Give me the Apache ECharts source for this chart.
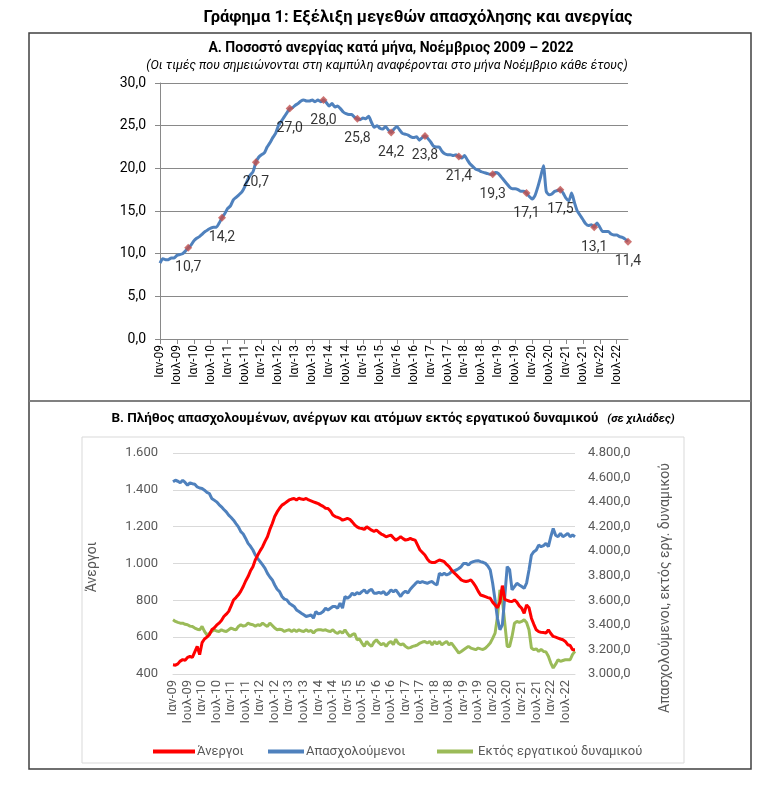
<!DOCTYPE html>
<html><head><meta charset="utf-8">
<script src="https://cdn.jsdelivr.net/npm/echarts@6/dist/echarts.min.js"></script>
<style>html,body{margin:0;padding:0;background:#fff}#c{width:770px;height:786px}</style>
</head><body><div id="c"></div>
<script>
// ---- tick label pieces ----
const monthNames = ['Ιαν','Φεβ','Μαρ','Απρ','Μαϊ','Ιουν','Ιουλ','Αυγ','Σεπ','Οκτ','Νοε','Δεκ'];
const firstYear = 2009, lastYear = 2022, lastMonthIndex = 10; // Nov 2022
const mainTitle = 'Γράφημα 1: Εξέλιξη μεγεθών απασχόλησης και ανεργίας';
const titleA = 'Α. Ποσοστό ανεργίας κατά μήνα, Νοέμβριος 2009 – 2022';
const subtitleA = '(Οι τιμές που σημειώνονται στη καμπύλη αναφέρονται στο μήνα Νοέμβριο κάθε έτους)';
const titleB = 'Β. Πλήθος απασχολουμένων, ανέργων και ατόμων εκτός εργατικού δυναμικού';
const titleBUnit = '(σε χιλιάδες)';
const seriesNames = ['Άνεργοι','Απασχολούμενοι','Εκτός εργατικού δυναμικού'];
const leftAxisNameB = 'Άνεργοι';
const rightAxisNameB = 'Απασχολούμενοι, εκτός εργ. δυναμικού';

// ---- Chart A: unemployment rate (%), Jan 2009 – Nov 2022 ----
const unemploymentRate = [
 8.9,9.4,9.3,9.3,9.5,9.5,9.8,9.9,10.0,10.3,10.7,11.0,
 11.5,11.8,12.0,12.3,12.6,12.8,13.0,13.1,13.1,13.6,14.2,14.7,
 15.3,15.6,16.3,16.6,16.9,17.2,17.8,18.6,19.2,19.6,20.7,21.3,
 21.6,21.8,22.5,23.0,23.6,24.1,25.0,25.5,26.0,26.5,27.0,27.1,
 27.4,27.6,27.9,28.0,27.9,27.9,28.0,27.8,28.0,27.8,28.0,27.7,
 27.3,27.6,27.2,27.3,27.0,26.6,26.4,26.3,26.3,26.0,25.8,25.7,
 25.9,25.8,26.1,25.4,24.8,25.0,24.7,24.6,24.9,24.5,24.2,24.6,
 24.9,24.5,24.1,24.0,23.9,23.7,23.6,23.7,23.3,23.6,23.8,23.5,
 23.1,22.6,22.5,22.5,22.0,21.7,21.6,21.6,21.5,21.6,21.4,21.2,
 21.5,21.0,20.5,20.2,19.9,19.8,19.6,19.5,19.4,19.3,19.3,19.5,
 19.4,19.0,18.6,18.2,17.8,17.6,17.6,17.5,17.3,17.3,17.1,16.7,
 16.4,16.8,17.8,19.0,20.3,17.3,16.9,17.0,17.3,17.4,17.5,17.1,
 16.5,16.2,17.1,16.0,15.0,14.5,14.0,13.5,13.3,13.4,13.1,13.6,
 13.1,12.6,12.6,12.6,12.3,12.2,12.2,12.0,11.9,11.7,11.4
];

// ---- Chart B: thousands of persons, Jan 2009 – Nov 2022 ----
const unemployed = [
 450,448,455,470,478,475,490,495,490,520,550,505,
 570,590,600,613,640,650,665,676,690,712,725,740,
 770,802,815,830,850,875,905,929,960,983,1020,1046,
 1070,1091,1120,1145,1185,1217,1255,1280,1300,1317,1325,1335,
 1345,1350,1353,1345,1355,1350,1348,1353,1345,1340,1335,1330,
 1325,1317,1310,1300,1299,1285,1263,1255,1250,1245,1235,1240,
 1245,1240,1226,1210,1199,1192,1190,1185,1199,1190,1181,1175,
 1181,1170,1160,1154,1145,1150,1154,1140,1127,1135,1145,1135,
 1127,1130,1136,1130,1127,1100,1073,1060,1046,1025,1010,1005,
 1005,1012,1019,1015,1010,995,983,965,950,938,925,911,
 905,902,905,911,895,875,850,829,825,820,815,811,
 790,775,760,790,880,805,800,795,793,802,790,770,
 757,730,775,760,703,670,640,630,626,625,622,640,
 620,604,600,595,590,586,577,559,555,532,532
];
const employed = [
 4565,4578,4570,4557,4578,4560,4538,4557,4550,4546,4524,4515,
 4511,4497,4480,4470,4430,4416,4402,4380,4362,4340,4321,4294,
 4275,4253,4225,4199,4159,4140,4104,4064,4040,4010,3969,3940,
 3915,3888,3861,3820,3790,3766,3725,3690,3671,3631,3610,3604,
 3577,3563,3550,3522,3509,3495,3482,3468,3474,3482,3455,3509,
 3490,3495,3509,3536,3522,3536,3550,3550,3536,3577,3536,3631,
 3617,3631,3658,3644,3663,3652,3671,3685,3658,3679,3690,3658,
 3658,3665,3658,3671,3644,3660,3685,3670,3685,3658,3631,3660,
 3675,3660,3690,3712,3734,3753,3744,3753,3745,3739,3748,3753,
 3735,3725,3820,3807,3820,3807,3815,3834,3840,3847,3860,3874,
 3901,3901,3888,3907,3915,3920,3923,3915,3910,3901,3880,3847,
 3739,3600,3450,3360,3400,3631,3874,3850,3685,3712,3739,3725,
 3712,3698,3740,3847,3969,3996,4010,4050,4037,4045,4064,4037,
 4118,4186,4130,4118,4145,4118,4130,4145,4118,4132,4118
];
const outsideLabourForce = [
 3441,3428,3420,3414,3414,3405,3401,3390,3387,3374,3365,3360,
 3387,3347,3319,3330,3347,3360,3350,3347,3360,3350,3347,3360,
 3374,3365,3360,3387,3401,3390,3395,3414,3405,3401,3390,3401,
 3395,3414,3400,3387,3414,3395,3374,3360,3365,3360,3347,3355,
 3360,3347,3360,3347,3360,3350,3347,3360,3347,3355,3333,3355,
 3360,3360,3355,3360,3350,3347,3360,3340,3330,3347,3333,3360,
 3330,3306,3320,3330,3279,3285,3252,3225,3265,3240,3225,3260,
 3279,3255,3238,3250,3225,3252,3265,3240,3284,3250,3238,3245,
 3225,3211,3215,3225,3230,3238,3252,3260,3265,3252,3265,3238,
 3265,3245,3265,3238,3252,3265,3238,3252,3225,3198,3171,3184,
 3198,3211,3225,3211,3205,3198,3211,3205,3200,3211,3230,3252,
 3290,3333,3468,3685,3604,3414,3225,3225,3306,3414,3428,3420,
 3428,3441,3420,3360,3211,3198,3205,3184,3200,3184,3180,3144,
 3089,3049,3080,3116,3103,3110,3116,3116,3116,3160,3184
];

// ---- categories (month labels) ----
const categories = [];
for (let y = firstYear; y <= lastYear; y++) {
  for (let m = 0; m < 12; m++) {
    if (y === lastYear && m > lastMonthIndex) break;
    categories.push(monthNames[m] + '-' + String(y).slice(2));
  }
}
const novemberPoints = [];
categories.forEach((c, i) => { if (c.startsWith('Νοε')) novemberPoints.push([i, unemploymentRate[i]]); });

const FONT = 'Roboto, "Noto Sans", sans-serif';
const comma1 = v => v.toFixed(1).replace('.', ',');
const thousands = v => String(v).replace(/\B(?=(\d{3})+(?!\d))/g, '.');

const chart = echarts.init(document.getElementById('c'), null, {renderer: 'canvas'});
chart.setOption({
  animation: false,
  textStyle: {fontFamily: FONT},
  title: [
    {text: mainTitle, left: 413, top: 4, textAlign: 'center',
     textStyle: {fontFamily: FONT, fontSize: 16.5, fontWeight: 'bold', color: '#000'}},
    {text: titleA, left: 386, top: 36, textAlign: 'center',
     textStyle: {fontFamily: FONT, fontSize: 14, fontWeight: 'bold', color: '#000'}},
    {text: subtitleA, left: 382, top: 54, textAlign: 'center',
     textStyle: {fontFamily: FONT, fontSize: 12.5, fontStyle: 'italic', fontWeight: 'normal', color: '#000'}},
    {text: '{b|' + titleB + '}  {i|' + titleBUnit + '}', left: 388, top: 405, textAlign: 'center',
     textStyle: {rich: {
       b: {fontFamily: FONT, fontSize: 13.5, fontWeight: 'bold', color: '#000'},
       i: {fontFamily: FONT, fontSize: 11.5, fontStyle: 'italic', color: '#000'}}}}
  ],
  graphic: [
    {type: 'rect', shape: {x: 29, y: 33, width: 722, height: 736}, style: {fill: 'none', stroke: '#404040', lineWidth: 1.5}, z: 0},
    {type: 'line', shape: {x1: 29, y1: 401, x2: 751, y2: 401}, style: {stroke: '#808080', lineWidth: 2}},
    {type: 'rect', shape: {x: 82, y: 437, width: 602, height: 326}, style: {fill: 'none', stroke: '#d9d9d9', lineWidth: 1}},
    {type: 'text', x: 92, y: 567, rotation: Math.PI / 2,
     style: {text: leftAxisNameB, fontFamily: FONT, fontSize: 14, fill: '#595959', align: 'center', verticalAlign: 'middle'}},
    {type: 'text', x: 665, y: 588, rotation: Math.PI / 2,
     style: {text: rightAxisNameB, fontFamily: FONT, fontSize: 14, fill: '#595959', align: 'center', verticalAlign: 'middle'}}
  ],
  legend: [
    {data: [seriesNames[0]], left: 148, top: 740, icon: 'rect', itemWidth: 42, itemHeight: 4, itemGap: 2,
     textStyle: {fontFamily: FONT, fontSize: 13, color: '#595959', padding: [0, 0, 0, -3]}},
    {data: [seriesNames[1]], left: 263, top: 740, icon: 'rect', itemWidth: 36, itemHeight: 4,
     textStyle: {fontFamily: FONT, fontSize: 13, color: '#595959', padding: [0, 0, 0, -3]}},
    {data: [seriesNames[2]], left: 432, top: 740, icon: 'rect', itemWidth: 36, itemHeight: 4,
     textStyle: {fontFamily: FONT, fontSize: 13, color: '#595959'}}
  ],
  grid: [
    {left: 160, top: 83, width: 468, height: 256},
    {left: 173, top: 453, width: 402, height: 221}
  ],
  xAxis: [
    {type: 'category', gridIndex: 0, data: categories, boundaryGap: false,
     axisLine: {lineStyle: {color: '#898989'}},
     axisTick: {interval: 5, length: 5, lineStyle: {color: '#898989'}},
     axisLabel: {interval: 5, rotate: 90, margin: 6, fontFamily: FONT, fontSize: 12, color: '#000'}},
    {type: 'category', gridIndex: 1, data: categories, boundaryGap: false,
     axisLine: {show: true, lineStyle: {color: '#d9d9d9'}},
     axisTick: {show: false},
     axisLabel: {interval: 5, rotate: 90, margin: 6, fontFamily: FONT, fontSize: 13, color: '#595959'}}
  ],
  yAxis: [
    {type: 'value', gridIndex: 0, min: 0, max: 30, interval: 5,
     axisLine: {show: true, lineStyle: {color: '#898989'}},
     axisTick: {show: true, length: 5, lineStyle: {color: '#898989'}},
     splitLine: {lineStyle: {color: '#898989', width: 1}},
     axisLabel: {formatter: comma1, margin: 14, fontFamily: FONT, fontSize: 14, color: '#000'}},
    {type: 'value', gridIndex: 1, position: 'left', min: 400, max: 1600, interval: 200,
     axisLine: {show: false}, axisTick: {show: false},
     splitLine: {lineStyle: {color: '#d9d9d9'}},
     axisLabel: {formatter: v => thousands(v), margin: 15, fontFamily: FONT, fontSize: 13, color: '#595959'}},
    {type: 'value', gridIndex: 1, position: 'right', min: 3000, max: 4800, interval: 200,
     axisLine: {show: false}, axisTick: {show: false}, splitLine: {show: false},
     axisLabel: {formatter: v => thousands(v) + ',0', margin: 13, fontFamily: FONT, fontSize: 13, color: '#595959'}}
  ],
  series: [
    {type: 'line', xAxisIndex: 0, yAxisIndex: 0, data: unemploymentRate, showSymbol: false, smooth: 0.2,
     lineStyle: {color: '#4f81bd', width: 3}, z: 2},
    {type: 'scatter', xAxisIndex: 0, yAxisIndex: 0, data: novemberPoints, symbol: 'diamond', symbolSize: 8,
     itemStyle: {color: '#c0504d'}, z: 3,
     label: {show: true, position: 'bottom', distance: 9, formatter: p => comma1(p.value[1]),
             fontFamily: FONT, fontSize: 14, color: '#000'}},
    {name: seriesNames[0], type: 'line', xAxisIndex: 1, yAxisIndex: 1, data: unemployed, showSymbol: false,
     lineStyle: {color: '#ff0000', width: 3}, itemStyle: {color: '#ff0000'}, z: 4},
    {name: seriesNames[1], type: 'line', xAxisIndex: 1, yAxisIndex: 2, data: employed, showSymbol: false,
     lineStyle: {color: '#4f81bd', width: 3}, itemStyle: {color: '#4f81bd'}, z: 3},
    {name: seriesNames[2], type: 'line', xAxisIndex: 1, yAxisIndex: 2, data: outsideLabourForce, showSymbol: false,
     lineStyle: {color: '#9bbb59', width: 3}, itemStyle: {color: '#9bbb59'}, z: 2}
  ]
});
</script></body></html>
